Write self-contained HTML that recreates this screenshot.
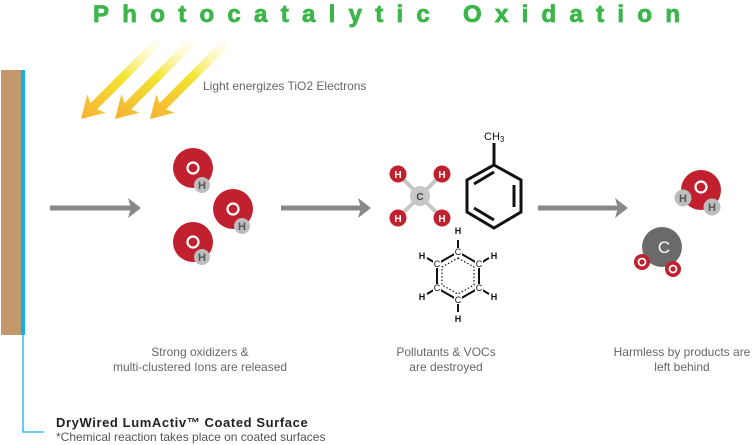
<!DOCTYPE html>
<html><head><meta charset="utf-8"><style>html,body{margin:0;padding:0;background:#fff}svg{display:block}</style></head>
<body>
<svg width="756" height="445" viewBox="0 0 756 445" xmlns="http://www.w3.org/2000/svg" font-family="Liberation Sans, sans-serif">
<defs>
<linearGradient id="ray" x1="1" y1="0" x2="0" y2="0">
<stop offset="0" stop-color="#fffbd0" stop-opacity="0.2"/>
<stop offset="0.45" stop-color="#f2e630"/>
<stop offset="1" stop-color="#f7b033"/>
</linearGradient>
<marker id="ah" markerWidth="4" markerHeight="4" refX="2" refY="2" orient="auto" markerUnits="strokeWidth">
<path d="M0,0 L2.6,2 L0,4 L0.6,2 Z" fill="#888"/>
</marker>
</defs>
<text x="93" y="22" font-size="24" font-weight="bold" fill="#3cb54a" stroke="#3cb54a" stroke-width="0.8" textLength="587" lengthAdjust="spacing">Photocatalytic Oxidation</text>

<!-- wall -->
<rect x="1" y="70" width="20" height="265" fill="#c3996b"/>
<rect x="21" y="70" width="4" height="265" fill="#12b0ea"/>
<path d="M23,335 V432 H44" fill="none" stroke="#12b0ea" stroke-width="1.3"/>

<!-- rays -->
<g>
<path transform="translate(81,119) rotate(-45)" d="M0,0 L22,-13 L18,-4.5 L110,-4.5 L110,4.5 L18,4.5 L22,13 Z" fill="url(#ray)"/>
<path transform="translate(115,119) rotate(-45)" d="M0,0 L22,-13 L18,-4.5 L110,-4.5 L110,4.5 L18,4.5 L22,13 Z" fill="url(#ray)"/>
<path transform="translate(150,119) rotate(-45)" d="M0,0 L22,-13 L18,-4.5 L110,-4.5 L110,4.5 L18,4.5 L22,13 Z" fill="url(#ray)"/>
</g>
<text x="203" y="90" font-size="12" fill="#666">Light energizes TiO2 Electrons</text>

<!-- arrows -->
<g stroke="#888" stroke-width="5" marker-end="url(#ah)">
<line x1="50" y1="208" x2="138" y2="208"/>
<line x1="281" y1="208" x2="368" y2="208"/>
<line x1="538" y1="208" x2="625" y2="208"/>
</g>

<!-- OH radicals -->
<g font-size="11" font-weight="bold" text-anchor="middle">
<circle cx="193" cy="168" r="20" fill="#c1202f"/><circle cx="193" cy="168" r="5.5" fill="none" stroke="#fff" stroke-width="2.2"/>
<circle cx="202" cy="185" r="8" fill="#bdbdbd"/><text x="202" y="189" fill="#555">H</text>
<circle cx="233" cy="209" r="20" fill="#c1202f"/><circle cx="233" cy="209" r="5.5" fill="none" stroke="#fff" stroke-width="2.2"/>
<circle cx="242" cy="226" r="8" fill="#bdbdbd"/><text x="242" y="230" fill="#555">H</text>
<circle cx="193" cy="242" r="20" fill="#c1202f"/><circle cx="193" cy="242" r="5.5" fill="none" stroke="#fff" stroke-width="2.2"/>
<circle cx="202" cy="257" r="8" fill="#bdbdbd"/><text x="202" y="261" fill="#555">H</text>
</g>

<!-- methane -->
<g font-size="10" font-weight="bold" text-anchor="middle">
<g stroke="#c6c6c6" stroke-width="4"><line x1="398" y1="174" x2="442" y2="218"/><line x1="442" y1="174" x2="398" y2="218"/></g>
<circle cx="420" cy="196" r="10" fill="#c6c6c6"/><text x="420" y="200" fill="#444">C</text>
<circle cx="398" cy="174" r="8.5" fill="#c1202f"/><text x="398" y="178" fill="#fff">H</text>
<circle cx="442" cy="174" r="8.5" fill="#c1202f"/><text x="442" y="178" fill="#fff">H</text>
<circle cx="398" cy="218" r="8.5" fill="#c1202f"/><text x="398" y="222" fill="#fff">H</text>
<circle cx="442" cy="218" r="8.5" fill="#c1202f"/><text x="442" y="222" fill="#fff">H</text>
</g>

<!-- toluene -->
<g fill="none" stroke="#111" stroke-width="3">
<polygon points="494,165 521,180 521,212 494,228 467,212 467,180"/>
<line x1="494" y1="165" x2="494" y2="143"/>
<line x1="514" y1="185" x2="514" y2="207"/>
<line x1="474" y1="184" x2="494" y2="172"/>
<line x1="474" y1="208" x2="494" y2="220"/>
</g>
<text x="484" y="140" font-size="11" fill="#111">CH<tspan font-size="8" dy="2">3</tspan></text>

<!-- benzene -->
<g stroke="#111" stroke-width="2" fill="none">
<polygon points="458,252 479,264 479,288 458,300 437,288 437,264"/>
<polygon points="458,258 474,267 474,285 458,294 442,285 442,267" stroke-dasharray="1.5,2" stroke-width="1.2"/>
<line x1="458" y1="252" x2="458" y2="240"/><line x1="458" y1="300" x2="458" y2="312"/>
<line x1="437" y1="264" x2="427" y2="258"/><line x1="479" y1="264" x2="489" y2="258"/>
<line x1="437" y1="288" x2="427" y2="294"/><line x1="479" y1="288" x2="489" y2="294"/>
</g>
<g font-size="9" font-weight="bold" text-anchor="middle" fill="#111">
<text x="458" y="234">H</text><text x="458" y="322">H</text>
<text x="422" y="259">H</text><text x="494" y="259">H</text>
<text x="422" y="300">H</text><text x="494" y="300">H</text>
</g>
<g font-size="9" text-anchor="middle" fill="#111">
<rect x="454" y="248" width="8" height="8" fill="#fff"/><text x="458" y="255">C</text>
<rect x="454" y="296" width="8" height="8" fill="#fff"/><text x="458" y="303">C</text>
<rect x="433" y="260" width="8" height="8" fill="#fff"/><text x="437" y="267">C</text>
<rect x="475" y="260" width="8" height="8" fill="#fff"/><text x="479" y="267">C</text>
<rect x="433" y="284" width="8" height="8" fill="#fff"/><text x="437" y="291">C</text>
<rect x="475" y="284" width="8" height="8" fill="#fff"/><text x="479" y="291">C</text>
</g>

<!-- products -->
<g font-size="11" font-weight="bold" text-anchor="middle">
<circle cx="701" cy="190" r="20" fill="#c1202f"/><circle cx="701" cy="187" r="5.5" fill="none" stroke="#fff" stroke-width="2.2"/>
<circle cx="683" cy="198" r="8.5" fill="#bdbdbd"/><text x="683" y="202" fill="#555">H</text>
<circle cx="712" cy="207" r="8.5" fill="#bdbdbd"/><text x="712" y="211" fill="#555">H</text>
<circle cx="662" cy="247" r="20" fill="#6a6a6a"/><text x="664" y="253" fill="#fff" font-size="17" font-weight="normal">C</text>
<circle cx="642" cy="262" r="8" fill="#c1202f"/><circle cx="642" cy="262" r="3.5" fill="none" stroke="#fff" stroke-width="1.8"/>
<circle cx="673" cy="269" r="8" fill="#c1202f"/><circle cx="673" cy="269" r="3.5" fill="none" stroke="#fff" stroke-width="1.8"/>
</g>

<!-- captions -->
<g font-size="12" fill="#666" text-anchor="middle">
<text x="200" y="356">Strong oxidizers &amp;</text>
<text x="200" y="371">multi-clustered Ions are released</text>
<text x="446" y="356">Pollutants &amp; VOCs</text>
<text x="446" y="371">are destroyed</text>
<text x="682" y="356">Harmless by products are</text>
<text x="682" y="371">left behind</text>
</g>
<text x="56" y="427" font-size="13" font-weight="bold" fill="#222" letter-spacing="0.6">DryWired LumActiv™ Coated Surface</text>
<text x="56" y="441" font-size="12" fill="#555">*Chemical reaction takes place on coated surfaces</text>
</svg>
</body></html>
